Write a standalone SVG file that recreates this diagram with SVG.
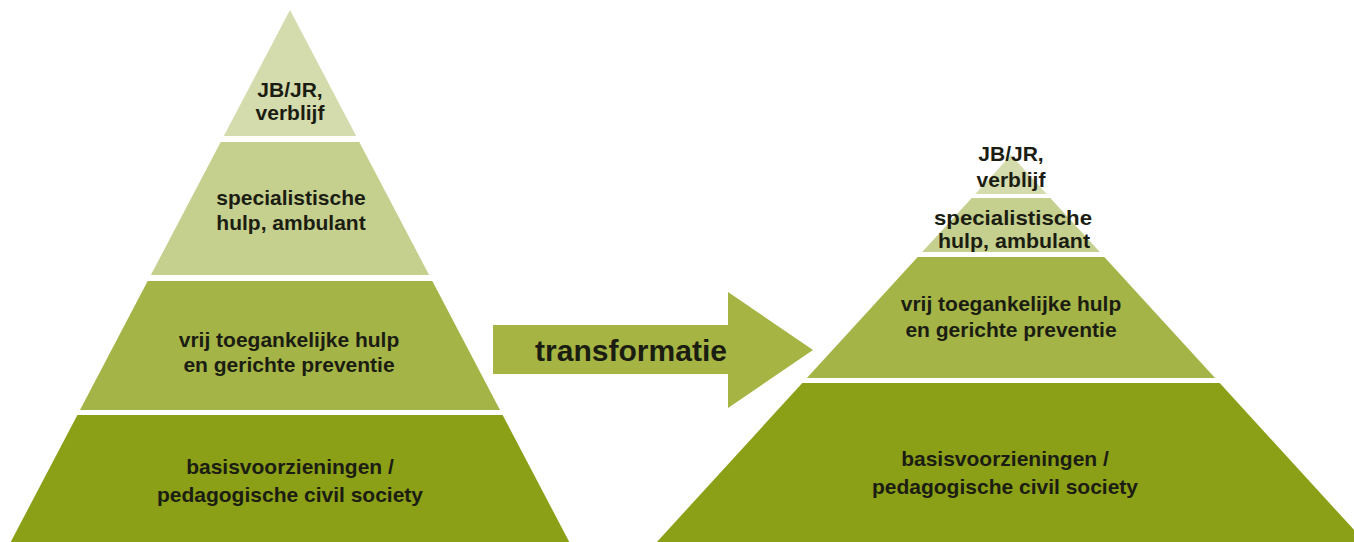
<svg xmlns="http://www.w3.org/2000/svg" width="1354" height="542" viewBox="0 0 1354 542">
  <style>
    .t { font-family: "Liberation Sans", Arial, sans-serif; font-weight: bold; font-size: 21px; fill: #1b1d12; text-anchor: middle; }
    .big { font-size: 29px; }
    .l1 { fill: #d4dcae; }
    .l2 { fill: #c5cf8e; }
    .l3 { fill: #a5b446; }
    .l4 { fill: #8b9f17; }
    .arrow { fill: #a5b442; }
  </style>
  <rect x="0" y="0" width="1354" height="542" fill="#ffffff"/>

  <!-- Left pyramid -->
  <g id="left-l1">
    <polygon class="l1" points="290,10 356.2,136 223.8,136"/>
    <text class="t" x="290" y="97">JB/JR,</text>
    <text class="t" x="290" y="120">verblijf</text>
  </g>
  <g id="left-l2">
    <polygon class="l2" points="220.7,142 359.3,142 429.1,275 150.9,275"/>
    <text class="t" x="291" y="205">specialistische</text>
    <text class="t" x="291" y="230">hulp, ambulant</text>
  </g>
  <g id="left-l3">
    <polygon class="l3" points="147.7,281 432.3,281 500,410 80,410"/>
    <text class="t" x="289" y="347">vrij toegankelijke hulp</text>
    <text class="t" x="289" y="372">en gerichte preventie</text>
  </g>
  <g id="left-l4">
    <polygon class="l4" points="77.4,415 502.6,415 569.3,542 10.7,542"/>
    <text class="t" x="290" y="474">basisvoorzieningen /</text>
    <text class="t" x="290" y="502">pedagogische civil society</text>
  </g>

  <!-- Connector: transformation arrow -->
  <g id="connectors">
    <polygon class="arrow" points="493,325 728,325 728,292 813,350 728,408 728,374 493,374"/>
    <text class="t big" x="631" y="361" textLength="192" lengthAdjust="spacingAndGlyphs">transformatie</text>
  </g>

  <!-- Right pyramid -->
  <g id="right-l1">
    <polygon class="l1" points="1011,155 1046.7,194 975.3,194"/>
    <text class="t" x="1011" y="161">JB/JR,</text>
    <text class="t" x="1011" y="187">verblijf</text>
  </g>
  <g id="right-l2">
    <polygon class="l2" points="971.7,198 1050.3,198 1099.8,252 922.2,252"/>
    <text class="t" x="1013" y="225" textLength="158" lengthAdjust="spacingAndGlyphs">specialistische</text>
    <text class="t" x="1014" y="248" textLength="152" lengthAdjust="spacingAndGlyphs">hulp, ambulant</text>
  </g>
  <g id="right-l3">
    <polygon class="l3" points="917.7,257 1104.3,257 1215.1,378 806.9,378"/>
    <text class="t" x="1011" y="311">vrij toegankelijke hulp</text>
    <text class="t" x="1011" y="337">en gerichte preventie</text>
  </g>
  <g id="right-l4">
    <polygon class="l4" points="802.3,383 1219.7,383 1365.1,542 656.9,542"/>
    <text class="t" x="1005" y="466">basisvoorzieningen /</text>
    <text class="t" x="1005" y="494">pedagogische civil society</text>
  </g>
</svg>
